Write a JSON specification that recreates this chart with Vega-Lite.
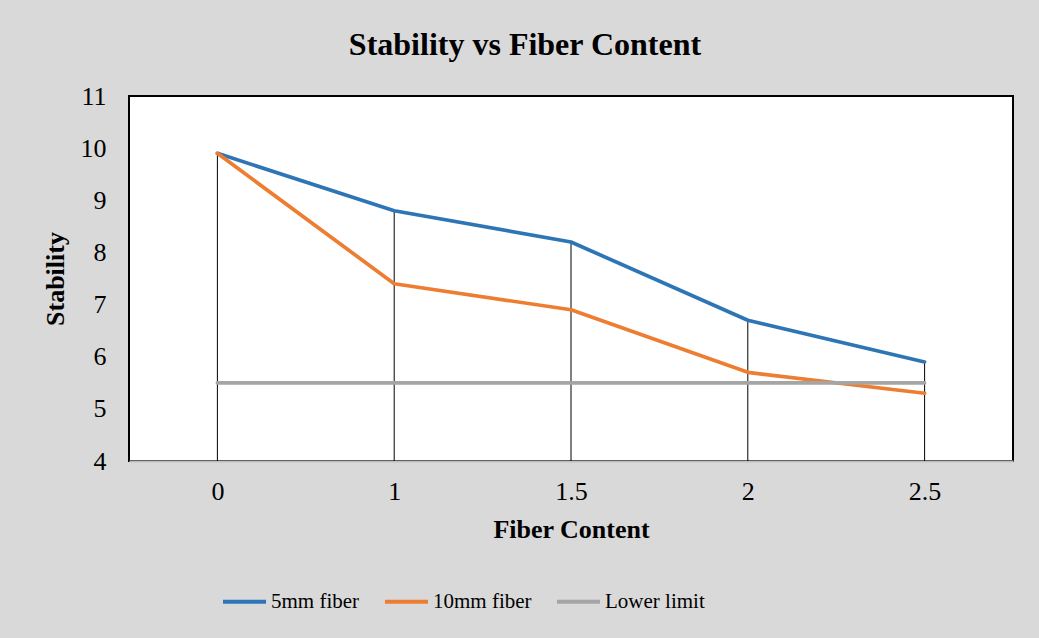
{
  "$schema": "https://vega.github.io/schema/vega-lite/v6.json",
  "width": 884,
  "height": 365,
  "autosize": {"type": "none"},
  "padding": {"left": 129, "top": 96, "right": 26, "bottom": 177},
  "background": "#d9d9d9",
  "title": {
    "text": "Stability vs Fiber Content",
    "font": "Liberation Serif",
    "fontSize": 32,
    "fontWeight": "bold",
    "color": "#000000",
    "anchor": "middle",
    "dx": -46,
    "offset": 21
  },
  "config": {
    "view": {"fill": "#ffffff", "stroke": "#000000", "strokeWidth": 2},
    "axis": {
      "grid": false,
      "ticks": false,
      "tickSize": 0
    }
  },
  "data": {
    "values": [
      {"x": "0", "series": "5mm fiber", "value": 9.9},
      {"x": "1", "series": "5mm fiber", "value": 8.8},
      {"x": "1.5", "series": "5mm fiber", "value": 8.2},
      {"x": "2", "series": "5mm fiber", "value": 6.7},
      {"x": "2.5", "series": "5mm fiber", "value": 5.9},
      {"x": "0", "series": "10mm fiber", "value": 9.9},
      {"x": "1", "series": "10mm fiber", "value": 7.4},
      {"x": "1.5", "series": "10mm fiber", "value": 6.9},
      {"x": "2", "series": "10mm fiber", "value": 5.7},
      {"x": "2.5", "series": "10mm fiber", "value": 5.3},
      {"x": "0", "series": "Lower limit", "value": 5.5},
      {"x": "1", "series": "Lower limit", "value": 5.5},
      {"x": "1.5", "series": "Lower limit", "value": 5.5},
      {"x": "2", "series": "Lower limit", "value": 5.5},
      {"x": "2.5", "series": "Lower limit", "value": 5.5}
    ]
  },
  "encoding": {
    "x": {
      "field": "x",
      "type": "nominal",
      "sort": ["0", "1", "1.5", "2", "2.5"],
      "scale": {"type": "point", "padding": 0.5},
      "axis": {
        "labelAngle": 0,
        "domainColor": "#bfbfbf",
        "domainWidth": 2,
        "labelFont": "Liberation Serif",
        "labelFontSize": 26,
        "labelColor": "#000000",
        "labelPadding": 17,
        "title": "Fiber Content",
        "titleFont": "Liberation Serif",
        "titleFontSize": 26,
        "titleFontWeight": "bold",
        "titleColor": "#000000",
        "titlePadding": 12
      }
    },
    "y": {
      "field": "value",
      "type": "quantitative",
      "scale": {"domain": [4, 11], "nice": false, "zero": false},
      "axis": {
        "domain": false,
        "values": [4, 5, 6, 7, 8, 9, 10, 11],
        "labelFont": "Liberation Serif",
        "labelFontSize": 26,
        "labelColor": "#000000",
        "labelPadding": 23,
        "title": "Stability",
        "titleFont": "Liberation Serif",
        "titleFontSize": 26,
        "titleFontWeight": "bold",
        "titleColor": "#000000",
        "titlePadding": 12
      }
    }
  },
  "layer": [
    {
      "transform": [{"filter": "datum.series === '5mm fiber'"}],
      "mark": {"type": "rule", "color": "#000000", "strokeWidth": 1},
      "encoding": {"y2": {"datum": 4}}
    },
    {
      "mark": {"type": "line", "strokeWidth": 3.7, "strokeCap": "round", "strokeJoin": "round"},
      "encoding": {
        "color": {
          "field": "series",
          "type": "nominal",
          "scale": {
            "domain": ["5mm fiber", "10mm fiber", "Lower limit"],
            "range": ["#2e75b6", "#ed7d31", "#a5a5a5"]
          },
          "legend": {
            "orient": "none",
            "legendX": 92,
            "legendY": 482,
            "direction": "horizontal",
            "title": null,
            "symbolType": "stroke",
            "symbolSize": 1849,
            "symbolStrokeWidth": 4,
            "labelFont": "Liberation Serif",
            "labelFontSize": 21,
            "labelColor": "#000000",
            "labelOffset": 3,
            "columnPadding": 17
          }
        }
      }
    }
  ]
}
